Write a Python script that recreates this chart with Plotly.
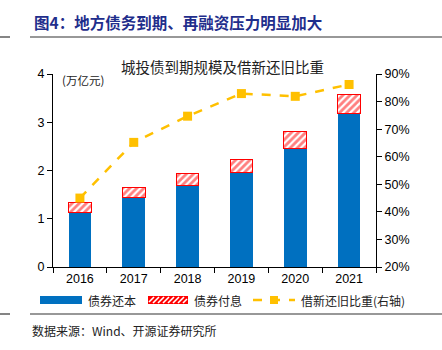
import plotly.graph_objects as go

years = ["2016", "2017", "2018", "2019", "2020", "2021"]
principal = [1.13, 1.44, 1.68, 1.95, 2.46, 3.18]
interest = [0.21, 0.21, 0.25, 0.28, 0.34, 0.40]
ratio = [45.0, 65.2, 74.7, 82.9, 81.9, 86.2]
names = ["债券还本", "债券付息", "借新还旧比重(右轴)"]

W, H = 442, 350
ML, MR, MT, MB = 53, 66, 74, 83
PW, PH = W - ML - MR, H - MT - MB

def px(x):
    return (x - ML) / PW

def py(y):
    return (H - MB - y) / PH

blue = "#0070C0"
red = "#FF0000"
yellow = "#FFC000"
cjk = "Noto Sans CJK SC"
num = "Liberation Sans"

fig = go.Figure()
fig.add_trace(go.Bar(x=years, y=principal, name=names[0], marker=dict(color=blue, line=dict(width=0)),
                     width=0.42))
fig.add_trace(go.Bar(x=years, y=interest, name=names[1], width=0.42,
                     marker=dict(color="white", line=dict(color=red, width=1),
                                 pattern=dict(shape="/", fgcolor=red, bgcolor="white", size=5, solidity=0.55))))
fig.add_trace(go.Scatter(x=years, y=ratio, name=names[2], yaxis="y2", mode="lines+markers",
                         line=dict(color=yellow, width=2.5, dash="dash"),
                         marker=dict(symbol="square", size=9, color=yellow)))

fig.update_layout(
    width=W, height=H, margin=dict(l=ML, r=MR, t=MT, b=MB, autoexpand=False),
    paper_bgcolor="white", plot_bgcolor="white",
    barmode="stack", bargap=0.58,
    font=dict(family=num, size=12, color="black"),
    showlegend=False,
    xaxis=dict(type="category", showline=True, linecolor="black", linewidth=1,
               ticks="outside", tickson="boundaries", ticklen=5, tickcolor="black",
               tickfont=dict(family=num, size=12.5), showgrid=False),
    yaxis=dict(range=[0, 4], dtick=1, showline=True, linecolor="black", linewidth=1,
               ticks="outside", ticklen=5, tickcolor="black", showgrid=False, zeroline=False,
               tickfont=dict(family=num, size=12.5)),
    yaxis2=dict(range=[20, 90], dtick=10, overlaying="y", side="right", showline=True,
                linecolor="black", linewidth=1, ticks="outside", ticklen=5, tickcolor="black",
                showgrid=False, zeroline=False, ticksuffix="%",
                tickfont=dict(family=num, size=12.5)),
)

ann = [
    dict(text="<b>图4：地方债务到期、再融资压力明显加大</b>", x=px(32), y=py(22), xanchor="left",
         font=dict(family=cjk, size=15.5, color="#1F2E8C")),
    dict(text="城投债到期规模及借新还旧比重", x=px(222), y=py(66),
         font=dict(family=cjk, size=14.5, color="#222222")),
    dict(text="(万亿元)", x=px(60), y=py(80), xanchor="left",
         font=dict(family=cjk, size=11.5, color="#222222")),
    dict(text="数据来源：Wind、开源证券研究所", x=px(30), y=py(330), xanchor="left",
         font=dict(family=cjk, size=12, color="#222222")),
    dict(text=names[0], x=px(86), y=py(300), xanchor="left", font=dict(family=cjk, size=12, color="#222222")),
    dict(text=names[1], x=px(192), y=py(300), xanchor="left", font=dict(family=cjk, size=12, color="#222222")),
    dict(text=names[2], x=px(299), y=py(300), xanchor="left", font=dict(family=cjk, size=12, color="#222222")),
]
for a in ann:
    a.update(xref="paper", yref="paper", showarrow=False, yanchor="middle")
    fig.add_annotation(**a)

def seg(x0, y0, x1, y1, color, width, dash="solid"):
    fig.add_shape(type="line", xref="paper", yref="paper", x0=px(x0), x1=px(x1), y0=py(y0), y1=py(y1),
                  line=dict(color=color, width=width, dash=dash))

for (x0, x1, y) in [(0, 10, 37), (30, 442, 37), (0, 10, 314), (30, 442, 314)]:
    seg(x0, y, x1, y, "#333333", 1.2)

# legend swatches
fig.add_shape(type="rect", xref="paper", yref="paper", x0=px(40), x1=px(82), y0=py(304), y1=py(296),
              fillcolor=blue, line=dict(width=0))
fig.add_shape(type="rect", xref="paper", yref="paper", x0=px(148), x1=px(188), y0=py(304), y1=py(296),
              fillcolor=red, line=dict(width=0))
hx0, hx1, ht, hb = 149, 187, 297, 303
hh = hb - ht
s = hx0 - hh
while s < hx1:
    ax, ay = s, hb
    bx, by = s + hh, ht
    if ax < hx0:
        ay = hb - (hx0 - ax)
        ax = hx0
    if bx > hx1:
        by = ht + (bx - hx1)
        bx = hx1
    if bx > ax:
        seg(ax, ay, bx, by, "white", 1.6)
    s += 5
seg(253, 300, 295, 300, yellow, 2.5, "dash")
fig.add_shape(type="rect", xref="paper", yref="paper", x0=px(270), x1=px(278), y0=py(304), y1=py(296),
              fillcolor=yellow, line=dict(width=0))

fig.write_html("out.html")
